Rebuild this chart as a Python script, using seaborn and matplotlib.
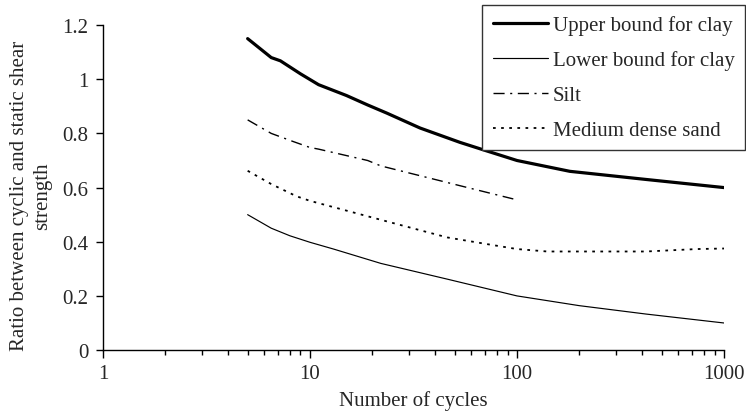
import matplotlib
matplotlib.use("Agg")
import matplotlib.pyplot as plt
from matplotlib.ticker import FuncFormatter, LogLocator, NullFormatter
import seaborn as sns
import pandas as pd

# Cyclic / static shear strength ratio versus number of cycles
upper_n = [5, 6.5, 7.2, 9, 11, 15, 19, 23.5, 34, 53, 71, 100, 180, 420, 1000]
upper_r = [1.15, 1.08, 1.068, 1.02, 0.98, 0.94, 0.905, 0.875, 0.82, 0.767, 0.736, 0.70, 0.66, 0.63, 0.60]

lower_n = [5, 6.5, 8, 10, 13, 22, 46, 100, 200, 420, 1000]
lower_r = [0.50, 0.45, 0.422, 0.398, 0.373, 0.32, 0.262, 0.20, 0.164, 0.133, 0.10]

silt_n = [5, 6.5, 8.3, 10, 11, 19, 22, 53, 96]
silt_r = [0.85, 0.80, 0.77, 0.748, 0.742, 0.70, 0.68, 0.607, 0.558]

sand_n = [5, 6.5, 8.6, 10, 22, 46, 72, 100, 140, 420, 740, 1000]
sand_r = [0.662, 0.613, 0.568, 0.551, 0.481, 0.416, 0.391, 0.373, 0.364, 0.364, 0.373, 0.375]

labels = ["Upper bound for clay", "Lower bound for clay", "Silt", "Medium dense sand"]
x_ticks = [1, 10, 100, 1000]
y_ticks = [0, 0.2, 0.4, 0.6, 0.8, 1.0, 1.2]

FS = 15

sns.set_style("ticks")
plt.rcParams["font.family"] = ["Liberation Serif", "DejaVu Serif"]
plt.rcParams["font.size"] = FS

fig = plt.figure(figsize=(7.46, 4.14), dpi=100)
ax = fig.add_axes([0.138, 0.152, 0.8325, 0.785])

series = [
    (upper_n, upper_r, dict(linewidth=2.3, linestyle="-")),
    (lower_n, lower_r, dict(linewidth=0.85, linestyle="-")),
    (silt_n, silt_r, dict(linewidth=1.0, linestyle=(0, (8, 4, 1.5, 4)))),
    (sand_n, sand_r, dict(linewidth=1.3, linestyle=(0, (1.5, 3)))),
]

for (n, r, style), lab in zip(series, labels):
    df = pd.DataFrame({"n": n, "r": r})
    sns.lineplot(data=df, x="n", y="r", ax=ax, color="black", label=lab,
                 sort=False, estimator=None, **style)

ax.set_xscale("log")
ax.set_xlim(1, 1000)
ax.set_ylim(0, 1.2)
ax.set_xticks(x_ticks)
ax.xaxis.set_major_formatter(FuncFormatter(lambda v, p: f"{v:g}"))
ax.xaxis.set_minor_locator(LogLocator(base=10, subs=range(2, 10)))
ax.xaxis.set_minor_formatter(NullFormatter())
ax.set_yticks(y_ticks)
ax.yaxis.set_major_formatter(FuncFormatter(lambda v, p: f"{v:g}"))

ax.tick_params(axis="x", which="major", direction="out", length=6, width=1,
               color="black", labelsize=FS, pad=4)
ax.tick_params(axis="x", which="minor", direction="out", length=3.8, width=1,
               color="black")
ax.tick_params(axis="y", which="major", direction="out", length=5, width=1,
               color="black", labelsize=FS, pad=5.5)

for side in ["top", "right"]:
    ax.spines[side].set_visible(False)
for side in ["left", "bottom"]:
    ax.spines[side].set_color("black")
    ax.spines[side].set_linewidth(1)

ax.set_xlabel("Number of cycles", fontsize=FS, labelpad=5)
ax.set_ylabel("Ratio between cyclic and static shear\nstrength", fontsize=FS,
              linespacing=1.3)
ax.yaxis.set_label_coords(-0.082, 0.477)

leg = ax.legend(loc="upper right", bbox_to_anchor=(745 / 746, 1 - 6 / 414),
                bbox_transform=fig.transFigure, frameon=True, fancybox=False,
                edgecolor="#333333", framealpha=1, fontsize=FS,
                handlelength=2.65, handletextpad=0.24, labelspacing=0.73,
                borderpad=0.5, borderaxespad=0)
leg.get_frame().set_linewidth(1.0)

fig.savefig("out.png", dpi=100)
